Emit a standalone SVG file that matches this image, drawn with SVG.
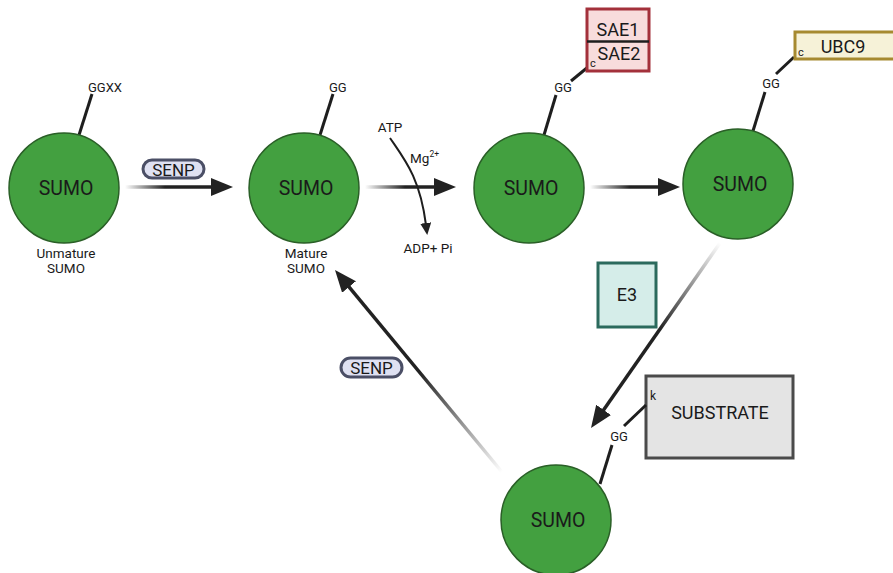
<svg xmlns="http://www.w3.org/2000/svg" width="893" height="573" viewBox="0 0 893 573">
<style>
.sumo{fill:#43a040;stroke:#2a5f27;stroke-width:1.5}
.t{font-family:Roboto,"Liberation Sans",sans-serif;fill:#1a1a1a}
.big{font-size:19.5px}
.lbl{font-size:18px}
.sm{font-size:13.5px}
.xs{font-size:13px}
.stalk{stroke:#1e1e1e;stroke-width:3;fill:none}
.arr{stroke-width:3.5;fill:none}
.pill{fill:#dfe1f2;stroke:#4b4f66;stroke-width:3}
</style>
<defs>
<marker id="head" markerUnits="userSpaceOnUse" markerWidth="24" markerHeight="20" refX="4" refY="9" orient="auto"><path d="M0,0 L22,9 L0,18 z" fill="#222"/></marker>
<marker id="head2" markerUnits="userSpaceOnUse" markerWidth="14" markerHeight="14" refX="2" refY="5.5" orient="auto"><path d="M0,0 L12,5.5 L0,11 z" fill="#222"/></marker>
<linearGradient id="g1" gradientUnits="userSpaceOnUse" x1="125" y1="0" x2="165" y2="0"><stop offset="0" stop-color="#222" stop-opacity="0"/><stop offset="1" stop-color="#222"/></linearGradient>
<linearGradient id="g2" gradientUnits="userSpaceOnUse" x1="365" y1="0" x2="405" y2="0"><stop offset="0" stop-color="#222" stop-opacity="0"/><stop offset="1" stop-color="#222"/></linearGradient>
<linearGradient id="g3" gradientUnits="userSpaceOnUse" x1="590" y1="0" x2="630" y2="0"><stop offset="0" stop-color="#222" stop-opacity="0"/><stop offset="1" stop-color="#222"/></linearGradient>
<linearGradient id="g4" gradientUnits="userSpaceOnUse" x1="720" y1="243" x2="660" y2="330"><stop offset="0" stop-color="#222" stop-opacity="0"/><stop offset="1" stop-color="#222"/></linearGradient>
<linearGradient id="g5" gradientUnits="userSpaceOnUse" x1="502" y1="472" x2="420" y2="372"><stop offset="0" stop-color="#222" stop-opacity="0"/><stop offset="1" stop-color="#222"/></linearGradient>
</defs>
<g id="connectors">
<line class="arr" x1="125" y1="187" x2="215" y2="187" stroke="url(#g1)" marker-end="url(#head)"/>
<line class="arr" x1="365" y1="187" x2="438" y2="187" stroke="url(#g2)" marker-end="url(#head)"/>
<line class="arr" x1="590" y1="187" x2="662" y2="187" stroke="url(#g3)" marker-end="url(#head)"/>
<line class="arr" x1="720" y1="243" x2="601.3" y2="413.2" stroke="url(#g4)" marker-end="url(#head)"/>
<line class="arr" x1="502" y1="472" x2="346.5" y2="283.9" stroke="url(#g5)" marker-end="url(#head)"/>
<path d="M390,138 C405,160 420,178 426,225" stroke="#1e1e1e" stroke-width="2" fill="none" marker-end="url(#head2)"/>
<text class="t sm" x="390" y="132" text-anchor="middle">ATP</text>
<text class="t sm" x="410" y="163">Mg<tspan font-size="8.5" dy="-6">2+</tspan></text>
<text class="t sm" x="428" y="253" text-anchor="middle">ADP+ Pi</text>
<rect class="pill" x="143" y="160" width="61" height="18" rx="9"/>
<text class="t" font-size="17px" x="173.5" y="175.5" text-anchor="middle">SENP</text>
<rect class="pill" x="341" y="358" width="61" height="19" rx="9.5"/>
<text class="t" font-size="17px" x="371.5" y="373.5" text-anchor="middle">SENP</text>
</g>
<g id="sumo1">
<line class="stalk" x1="79" y1="135" x2="92" y2="94"/>
<circle class="sumo" cx="64" cy="188" r="55"/>
<text class="t big" x="66" y="195" text-anchor="middle">SUMO</text>
<text class="t xs" x="88" y="92">GGXX</text>
<text class="t sm" x="66" y="258" text-anchor="middle">Unmature</text>
<text class="t sm" x="66" y="273" text-anchor="middle">SUMO</text>
</g>
<g id="sumo2">
<line class="stalk" x1="320" y1="135" x2="333" y2="94"/>
<circle class="sumo" cx="304" cy="188" r="55"/>
<text class="t big" x="306" y="195" text-anchor="middle">SUMO</text>
<text class="t xs" x="329" y="92">GG</text>
<text class="t sm" x="306" y="258" text-anchor="middle">Mature</text>
<text class="t sm" x="306" y="273" text-anchor="middle">SUMO</text>
</g>
<g id="sumo3">
<line class="stalk" x1="544" y1="135" x2="556" y2="95"/>
<line class="stalk" x1="571" y1="81" x2="588" y2="67"/>
<circle class="sumo" cx="529" cy="188" r="55"/>
<text class="t big" x="531" y="195" text-anchor="middle">SUMO</text>
<text class="t xs" x="563" y="92" text-anchor="middle">GG</text>
</g>
<g id="sae">
<rect x="587" y="9" width="62" height="62" fill="#f8dcdc" stroke="#a3313b" stroke-width="3"/>
<line x1="587" y1="41.5" x2="649" y2="41.5" stroke="#1e1e1e" stroke-width="2.5"/>
<text class="t lbl" x="618" y="36" text-anchor="middle">SAE1</text>
<text class="t lbl" x="619" y="60" text-anchor="middle">SAE2</text>
<text class="t" font-size="11" x="590" y="67">c</text>
</g>
<g id="sumo4">
<line class="stalk" x1="753" y1="131" x2="765" y2="92"/>
<line class="stalk" x1="776" y1="74" x2="794" y2="57"/>
<circle class="sumo" cx="738" cy="184" r="55"/>
<text class="t big" x="740" y="191" text-anchor="middle">SUMO</text>
<text class="t xs" x="771" y="88" text-anchor="middle">GG</text>
</g>
<g id="ubc9">
<rect x="795" y="32" width="110" height="27" fill="#f6f2d8" stroke="#a68a30" stroke-width="3"/>
<text class="t lbl" x="843" y="53" text-anchor="middle">UBC9</text>
<text class="t" font-size="11" x="798" y="56">c</text>
</g>
<g id="e3">
<rect x="598" y="263" width="58" height="64" fill="#d5ede9" stroke="#2b6a5d" stroke-width="3"/>
<text class="t lbl" x="627" y="301" text-anchor="middle">E3</text>
</g>
<g id="substrate">
<rect x="646" y="376" width="147" height="82" fill="#e4e4e4" stroke="#4a4a4a" stroke-width="3"/>
<text class="t lbl" x="720" y="419" text-anchor="middle">SUBSTRATE</text>
<text class="t" font-size="12" x="650" y="400">k</text>
</g>
<g id="sumo5">
<line class="stalk" x1="600" y1="484" x2="612" y2="445"/>
<line class="stalk" x1="624" y1="426" x2="646" y2="405"/>
<circle class="sumo" cx="556" cy="520" r="55"/>
<text class="t big" x="558" y="527" text-anchor="middle">SUMO</text>
<text class="t xs" x="619" y="441" text-anchor="middle">GG</text>
</g>
</svg>
